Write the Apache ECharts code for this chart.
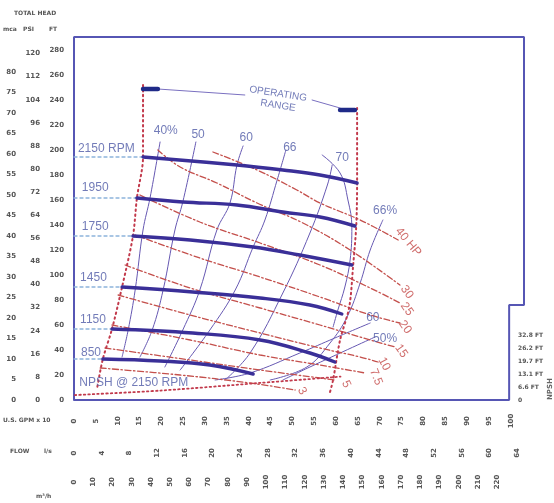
<!DOCTYPE html>
<html><head><meta charset="utf-8">
<script src="https://cdn.jsdelivr.net/npm/echarts@6/dist/echarts.min.js"></script>
<style>html,body{margin:0;padding:0;background:#fff}#c{width:554px;height:503px}</style>
</head><body><div id="c"></div><script>
// ---------- axes / ticks ----------
const GPM_MAX = 1030;
const FT_MAX = 290.4;
const ftTicks = [0,20,40,60,80,100,120,140,160,180,200,220,240,260,280];
const psiTicks = [0,8,16,24,32,40,48,56,64,72,80,88,96,104,112,120];
const mcaTicks = [0,5,10,15,20,25,30,35,40,45,50,55,60,65,70,75,80];
const gpmTicks = [0,50,100,150,200,250,300,350,400,450,500,550,600,650,700,750,800,850,900,950,1000];
const lsTicks = [0,4,8,12,16,20,24,28,32,36,40,44,48,52,56,60,64];
const m3hTicks = [0,10,20,30,40,50,60,70,80,90,100,110,120,130,140,150,160,170,180,190,200,210,220];
const npshTicks = [0,6.56,13.12,19.68,26.24,32.8];
const npshLabels = ['0','6.6 FT','13.1 FT','19.7 FT','26.2 FT','32.8 FT'];
const NPSH_MAX = 183.3;

// ---------- head curves (GPM, FT) ----------
const rpmNames = ['2150 RPM','1950','1750','1450','1150','850'];
const head2150 = [[158,194.4],[373,188],[478,184],[563,180],[648,173.6]];
const head1950 = [[144,161.6],[249,158.4],[373,156],[478,150.4],[563,146.4],[643,139.2]];
const head1750 = [[135,131.2],[266,128],[410,122.4],[517,116],[636,108]];
const head1450 = [[110,90.4],[272,86.4],[426,81.6],[540,76],[613,68.8]];
const head1150 = [[87,56.8],[272,53.6],[426,48],[540,37.6],[597,30.4]];
const head850  = [[66,32.8],[197,31.2],[311,28],[410,20.8]];
const headCurves = [head2150,head1950,head1750,head1450,head1150,head850];
const rpmLabelPos = [[9,201],[18,169.6],[18,138.4],[14,97.6],[14,64],[16,37.6]];

// ---------- efficiency curves ----------
const eff40 = [[197,206.4],[174,161.6],[158,136],[140,88],[124,56],[110,34.4]];
const eff50 = [[279,206.4],[249,158.4],[231,136],[204,88],[179,56],[151,34.4]];
const eff60 = [[387,203.2],[373,188],[357,157.6],[327,136],[288,88],[249,56],[208,26.4]];
const eff66 = [[485,200],[465,176],[437,144],[410,122.4],[369,88],[311,56],[243,24]];
const eff70L = [[346,16],[403,37.6],[478,85.6],[540,133.6],[580,172],[591,188]];
const eff70R = [[568,196],[609,181.6],[627,160],[636,138.4],[632,112],[620,90.4],[604,72],[593,58.4]];
const eff66R = [[707,144],[678,120],[655,93.6],[625,66.4],[586,45.6],[533,26.4],[449,16]];
const eff60R = [[678,61.6],[597,49.6],[517,37.6],[403,21.6],[323,16]];
const eff50R = [[689,50.4],[540,26.4],[478,16]];
const effCurves = [eff40,eff50,eff60,eff66,eff70L,eff70R,eff66R,eff60R,eff50R];
const effNames = ['40%','50','60','66','70','66%','60','50%'];
const effLabelPos = [[210,215.2],[284,212],[394,209.6],[494,201.6],[614,193.6],[712,151.2],[684,65.6],[712,48.8]];

// ---------- HP lines ----------
const hp40 = [[318,198.4],[419,184],[510,168],[563,157.6],[655,144],[742,128]];
const hp30 = [[192,200],[243,186.4],[327,173.6],[419,157.6],[524,141.6],[632,120],[746,92]];
const hp25 = [[151,164],[288,142.4],[426,125.6],[563,108],[678,89.6],[746,77.6]];
const hp20 = [[140,132],[288,113.6],[426,98.4],[563,82.4],[678,68],[746,61.6]];
const hp15 = [[117,108],[266,89.6],[426,73.6],[563,60],[678,48],[735,42.4]];
const hp10 = [[101,84],[266,68],[426,53.6],[563,41.6],[655,34.4],[696,30.4]];
const hp7_5 = [[87,60],[266,48],[426,36],[563,28],[666,21.6]];
const hp5 = [[71,41.6],[266,32],[426,24],[597,16]];
const hp3 = [[60,25.6],[243,20],[403,13.6],[506,8]];
const hpCurves = [hp40,hp30,hp25,hp20,hp15,hp10,hp7_5,hp5,hp3];
const hpNames = ['40 HP','30','25','20','15','10','7.5','5','3'];
const hpLabelPos = [[765,126.4],[762,86.4],[762,72.8],[758,58.4],[749,39.2],[710,28.8],[691,18.4],[623,12.8],[522,7.2]];
const hpLabelRot = [-50,-55,-55,-55,-55,-62,-68,-65,-60];

// ---------- operating range ----------
const opLeft = [[158,252],[158,194.4],[144,161.6],[135,131.2],[110,90.4],[87,56.8],[66,32.8],[53,9.6]];
const opRight = [[648,233.6],[648,173.6],[646,139.2],[639,108],[630,74.4],[609,48],[593,16],[586,6.4]];
const opMarkL = [[158,248.8],[192,248.8]];
const opMarkR = [[609,232],[643,232]];
const opLink1 = [[192,248.8],[391,244]];
const opLink2 = [[545,240],[609,233.6]];
const opText = [['OPERATING',[467,245]],['RANGE',[467,235.5]]];

// ---------- NPSH (GPM, NPSH ft) ----------
const npsh2150 = [[2,2.5],[200,4.8],[425,8.6],[610,11.8]];

// ---------- frame ----------
const frame = [[0,0],[0,FT_MAX],[GPM_MAX,FT_MAX],[GPM_MAX,76],[996,76],[996,0],[0,0]];

const HEADC = '#3a2f98', EFFC = '#6658b2', HPC = '#c4504c', BNDC = '#c23a4c', TXTB = '#4f5aa6';

function line(data, color, width, type, smooth, extra) {
  return Object.assign({type:'line', data, symbol:'none', smooth: smooth, silent:true,
    lineStyle:{color, width, type, cap:'round'}, z:2}, extra||{});
}
function texts(items, style) {
  return {type:'scatter', symbolSize:0, silent:true, z:10,
    data: items.map(it => ({value: it.pos, label: Object.assign({show:true, position:'inside', formatter: it.text,
      rotate: it.rot||0}, style, it.style||{})}))};
}

const series = [];
series.push(line(frame, '#5656b4', 2, 'solid', false, {z:1}));
// guide dashed lines
headCurves.forEach(c => series.push(line([[0,c[0][1]],[c[0][0],c[0][1]]], '#8db4dc', 1.3, [3,3], false)));
effCurves.forEach(c => series.push(line(c, EFFC, 1, 'solid', 0.4)));
hpCurves.forEach(c => series.push(line(c, HPC, 1.3, [6,2.5,1.5,2.5], 0.4)));
series.push(line(opLeft, BNDC, 2, [1.5,3.5], 0.3));
series.push(line(opRight, BNDC, 2, [1.5,3.5], 0.3));
headCurves.forEach(c => series.push(line(c, HEADC, 3.4, 'solid', 0.4, {z:5})));
series.push(line(opMarkL, '#1f2a88', 4.5, 'solid', false, {z:6}));
series.push(line(opMarkR, '#1f2a88', 4.5, 'solid', false, {z:6}));
series.push(line(opLink1, '#7a70c0', 1, 'solid', false));
series.push(line(opLink2, '#7a70c0', 1, 'solid', false));
series.push(Object.assign(line(npsh2150, BNDC, 1.8, [1.5,3], 0.3), {yAxisIndex:3}));

const baseFont = {fontFamily:'Liberation Sans', fontSize:12};
series.push(texts(rpmNames.map((t,i)=>({text:t, pos:rpmLabelPos[i]})), Object.assign({color:TXTB, align:'left', verticalAlign:'middle'}, baseFont)));
series.push(texts(effNames.map((t,i)=>({text:t, pos:effLabelPos[i]})), Object.assign({color:TXTB, align:'center', verticalAlign:'middle'}, baseFont)));
series.push(texts(hpNames.map((t,i)=>({text:t, pos:hpLabelPos[i], rot:hpLabelRot[i]})), Object.assign({color:'#c44a48', align:'center', verticalAlign:'middle'}, baseFont)));
series.push(texts(opText.map(o=>({text:o[0], pos:o[1], rot:-9})), {color:TXTB, align:'center', verticalAlign:'middle', fontFamily:'Liberation Sans', fontSize:10}));
series.push(texts([{text:'NPSH @ 2150 RPM', pos:[12,14]}], Object.assign({color:TXTB, align:'left', verticalAlign:'middle'}, baseFont)));

function fmt(ticks, f) { return v => { const i = ticks.findIndex(t => Math.abs(t - v) < 0.01); return i < 0 ? '' : f(ticks[i], i); }; }
const axLab = {fontFamily:'DejaVu Sans', fontSize:7, fontWeight:'bold', color:'#555'};
const hideAx = {axisLine:{show:false}, axisTick:{show:false}, splitLine:{show:false}};

const option = {
  animation:false,
  grid:{left:74, right:30, top:37, bottom:103},
  xAxis:[
    Object.assign({type:'value', min:0, max:GPM_MAX, interval:50, position:'bottom',
      axisLabel:Object.assign({rotate:90, align:'center', verticalAlign:'middle', margin:21, formatter: fmt(gpmTicks, v=>String(v/10))}, axLab)}, hideAx),
    Object.assign({type:'value', min:0, max:GPM_MAX*0.06309, interval:4, position:'bottom', offset:30,
      axisLabel:Object.assign({rotate:90, align:'center', verticalAlign:'middle', margin:23, formatter: fmt(lsTicks, v=>String(v))}, axLab)}, hideAx),
    Object.assign({type:'value', min:0, max:GPM_MAX*0.22712, interval:10, position:'bottom', offset:60,
      axisLabel:Object.assign({rotate:90, align:'center', verticalAlign:'middle', margin:22, formatter: fmt(m3hTicks, v=>String(v))}, axLab)}, hideAx)
  ],
  yAxis:[
    Object.assign({type:'value', min:0, max:FT_MAX, interval:20, position:'left',
      axisLabel:Object.assign({margin:10, formatter: fmt(ftTicks, v=>String(v))}, axLab)}, hideAx),
    Object.assign({type:'value', min:0, max:FT_MAX/2.31, interval:8, position:'left', offset:24,
      axisLabel:Object.assign({margin:10, formatter: fmt(psiTicks, v=>String(v))}, axLab)}, hideAx),
    Object.assign({type:'value', min:0, max:FT_MAX/3.281, interval:5, position:'left', offset:48,
      axisLabel:Object.assign({margin:10, formatter: fmt(mcaTicks, v=>String(v))}, axLab)}, hideAx),
    Object.assign({type:'value', min:0, max:NPSH_MAX, interval:6.56, position:'right', offset:-6,
      axisLabel:Object.assign({margin:0, align:'left', formatter: fmt(npshTicks, (v,i)=>npshLabels[i])}, axLab, {fontSize:6})}, hideAx)
  ],
  graphic:[
    {type:'text', left:14, top:10, style:{text:'TOTAL HEAD', font:'bold 6px DejaVu Sans', fill:'#555'}},
    {type:'text', left:3, top:26, style:{text:'mca', font:'bold 6px DejaVu Sans', fill:'#555'}},
    {type:'text', left:23, top:26, style:{text:'PSI', font:'bold 6px DejaVu Sans', fill:'#555'}},
    {type:'text', left:49, top:26, style:{text:'FT', font:'bold 6px DejaVu Sans', fill:'#555'}},
    {type:'text', left:3, top:417, style:{text:'U.S. GPM x 10', font:'bold 6px DejaVu Sans', fill:'#555'}},
    {type:'text', left:10, top:448, style:{text:'FLOW       l/s', font:'bold 6px DejaVu Sans', fill:'#555'}},
    {type:'text', left:36, top:493, style:{text:'m³/h', font:'bold 6px DejaVu Sans', fill:'#555'}},
    {type:'text', x:547, y:400, rotation:Math.PI/2, style:{text:'NPSH', font:'bold 7px DejaVu Sans', fill:'#666'}}
  ],
  series
};
const chart = echarts.init(document.getElementById('c'), null, {renderer:'canvas'});
chart.setOption(option);
</script></body></html>
